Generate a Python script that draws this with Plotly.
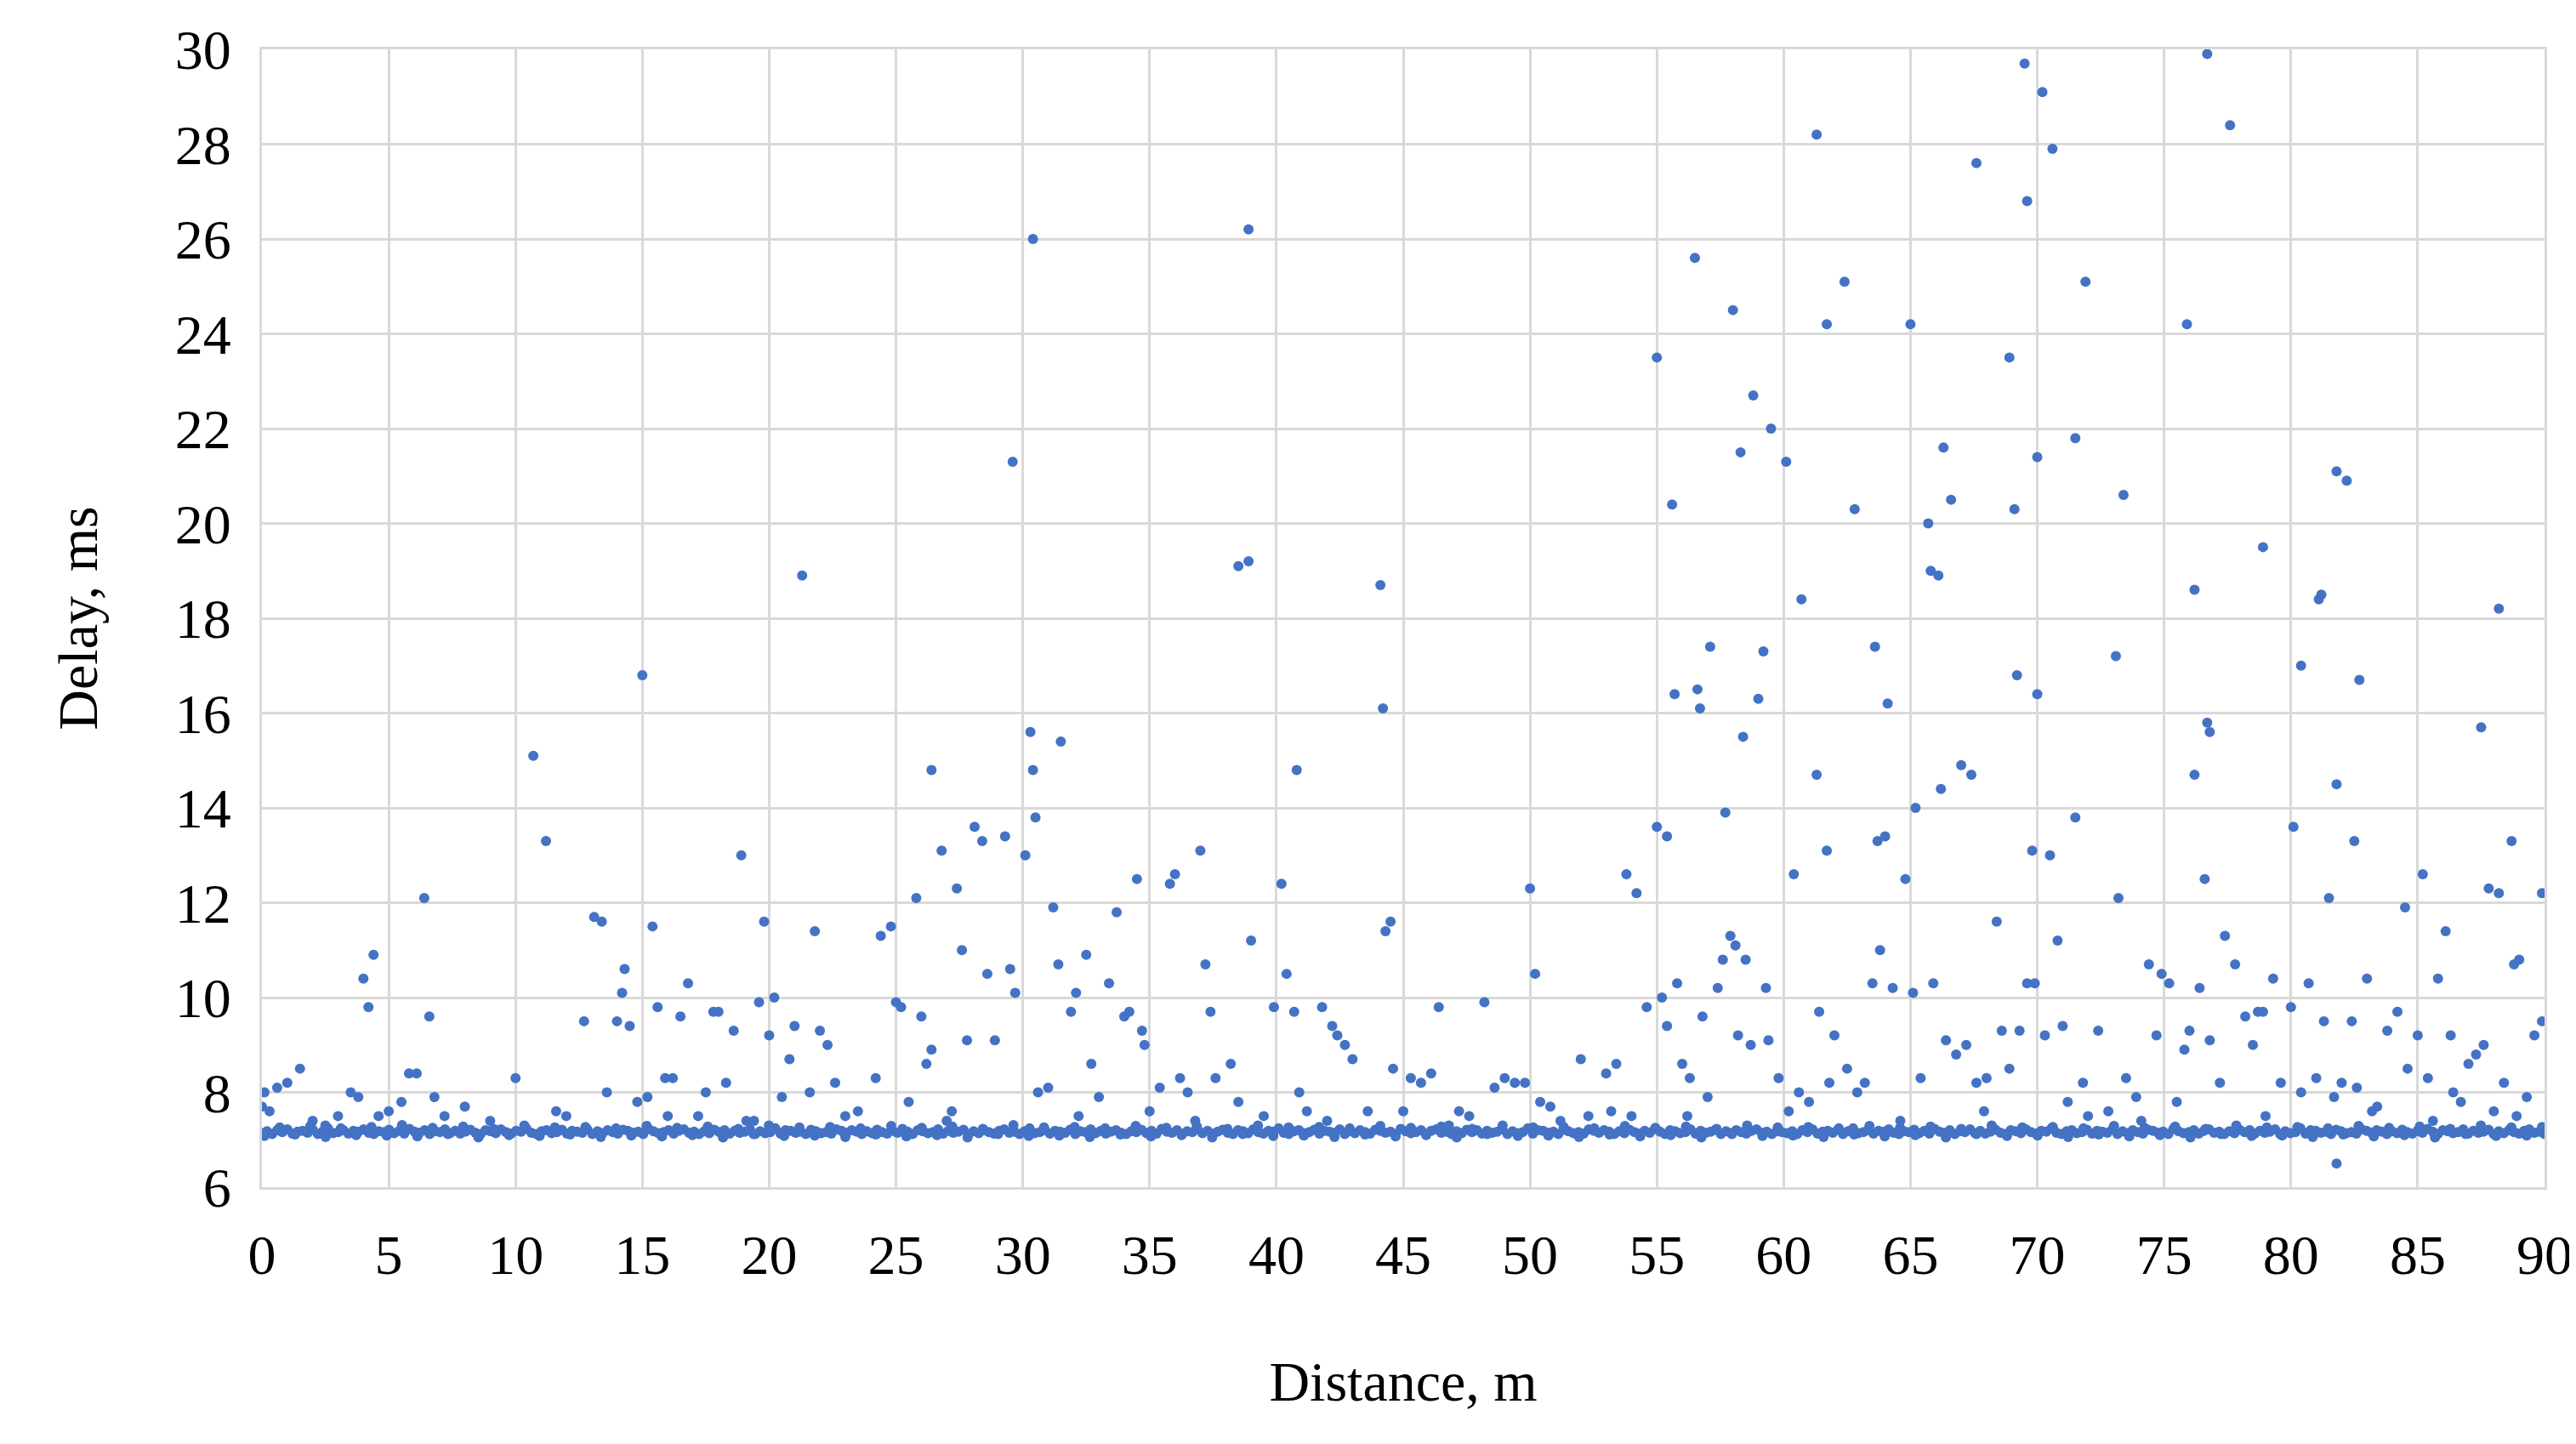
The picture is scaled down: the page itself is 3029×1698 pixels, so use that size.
import numpy as np
import plotly.graph_objects as go

# dense baseline band, hundredths above 7.00 ms, sampled uniformly along distance
band_str = """
14 18 12 20 16 22 13 17 19 15 21 12 18 24 14 16 20 13 19 17 22 15 12 18 16 21 14 19 13 23
17 15 20 12 18 16 22 14 19 13 17 21 15 12 20 18 14 22 16 13 19 17 24 15 12 18 20 14 16 21
13 19 17 15 22 12 18 14 20 16 13 21 19 15 17 12 23 18 14 16 20 13 19 22 15 17 12 18 14 21
16 20 13 19 15 17 22 12 18 14 16 24 13 20 19 15 17 12 21 18 14 16 13 22 19 15 20 17 12 18
14 21 16 13 19 15 23 17 12 20 18 14 16 22 13 19 15 17 21 12 18 14 20 16 13 19 22 15 17 12
18 24 14 16 20 13 19 17 15 21 12 18 16 22 14 19 13 17 20 15 12 18 16 21 14 19 13 23 17 15
20 12 18 16 22 14 19 13 17 21 15 12 20 18 14 22 16 13 19 17 24 15 12 18 20 14 16 21 13 19
17 15 22 12 18 14 20 16 13 21 19 15 17 12 23 18 14 16 20 13 19 22 15 17 12 18 14 21 16 20
13 19 15 17 22 12 18 14 16 24 13 20 19 15 17 12 21 18 14 16 13 22 19 15 20 17 12 18 14 21
16 13 19 15 23 17 12 20 18 14 16 22 13 19 15 17 21 12 18 14 20 16 13 19 22 15 17 12 18 16
14 18 12 20 16 22 13 17 19 15 21 12 18 24 14 16 20 13 19 17 22 15 12 18 16 21 14 19 13 23
17 15 20 12 18 16 22 14 19 13 17 21 15 12 20 18 14 22 16 13 19 17 24 15 12 18 20 14 16 21
13 19 17 15 22 12 18 14 20 16 13 21 19 15 17 12 23 18 14 16 20 13 19 22 15 17 12 18 14 21
16 20 13 19 15 17 22 12 18 14 16 24 13 20 19 15 17 12 21 18 14 16 13 22 19 15 20 17 12 18
14 21 16 13 19 15 23 17 12 20 18 14 16 22 13 19 15 17 21 12 18 14 20 16 13 19 22 15 17 12
"""
# second, offset pass through the band (distances shifted by half a step)
band2_str = """
08 26 11 29 06 24 10 27 09 31 07 25 12 28 05 23 10 30 08 26 11 27 06 24 09 29 07 25 10 28
05 23 12 30 08 26 09 27 06 24 11 29 07 25 10 28 05 23 12 31 08 26 09 27 06 24 11 29 07 25
10 28 05 23 12 30 08 26 09 27 06 24 11 29 07 25 10 28 05 23 12 30 08 26 09 27 06 24 11 29
07 25 10 28 05 23 12 30 08 26 09 27 06 24 11 29 07 25 10 28 05 23 12 30 08 26 09 27 06 24
11 29 07 25 10 28 05 23 12 30 08 26 09 27 06 24 11 29 07 25 10 28 05 23 12 30 08 26 09 27
"""
band_y = [7 + int(v) / 100 for v in band_str.split()]
band_x = np.linspace(0, 90, len(band_y))
band2_y = [7 + int(v) / 100 for v in band2_str.split()]
band2_x = np.linspace(0.1, 89.9, len(band2_y))

# scattered delays (distance m, delay ms)
dist = [
    0.0, 0.1, 0.3, 0.6, 1.0, 1.5, 2.5, 3.0, 3.5, 3.8, 4.0, 4.2, 4.4, 4.6, 5.5, 5.8, 6.1, 6.4, 6.6, 6.8,
    8.0, 10.0, 10.7, 11.2, 12.0, 12.7, 13.1, 13.4, 13.6, 14.0, 14.2, 14.3, 14.5, 14.8, 15.0, 15.2, 15.4,
    15.6, 15.9, 16.2, 16.5, 16.8, 17.2, 17.5, 17.8, 18.0, 18.3, 18.6, 18.9, 19.1, 19.6, 19.8, 20.0,
    20.2, 20.5, 20.8, 21.0, 21.3, 21.6, 21.8, 22.0, 22.3, 22.6, 23.0, 24.2, 24.4, 24.8, 25.0, 25.2,
    25.5, 25.8, 26.0, 26.2, 26.4, 26.4, 26.8, 27.2, 27.4, 27.6, 27.8, 28.1, 28.4, 28.6, 28.9, 29.3,
    29.5, 29.7, 29.6, 30.1, 30.3, 30.4, 30.5, 30.4, 30.6, 31.0, 31.2, 31.4, 31.5, 31.9, 32.1, 32.5,
    32.7, 33.0, 33.4, 33.7, 34.0, 34.2, 34.5, 34.7, 34.8, 35.4, 35.8, 36.0, 36.2, 36.5, 37.0, 37.2,
    37.4, 37.6, 38.2, 38.5, 39.0, 38.5, 38.9, 38.9, 39.9, 40.2, 40.4, 40.7, 40.9, 41.2, 40.8, 41.8,
    42.2, 42.4, 42.7, 43.0, 43.6, 44.3, 44.6, 44.2, 44.1, 44.5, 45.3, 45.7, 46.1, 46.4, 46.8, 47.2,
    48.2, 48.6, 49.0, 49.4, 49.8, 50.0, 50.2, 50.4, 50.8, 52.0, 52.3, 53.0, 53.4, 53.8, 54.2, 54.6,
    2.0, 5.0, 7.2, 9.0, 11.6, 16.0, 19.4, 23.5, 27.0, 32.2, 35.0, 36.8, 39.5, 42.0, 45.0, 47.6, 51.2,
    53.2, 54.0,
    55.0, 55.6, 55.7, 55.4, 55.0, 56.5, 56.6, 56.7, 57.1, 57.7, 58.0, 58.3, 58.4, 58.8, 59.0, 59.2,
    59.5, 60.1, 60.7, 61.3, 61.3, 61.7, 61.7, 62.4, 62.8, 63.6, 63.7, 64.0, 64.1, 65.0, 65.2, 65.7,
    65.8, 66.1, 66.2, 66.3, 66.6, 67.0, 67.4, 67.6, 68.9, 69.1, 69.2, 69.5, 69.6, 69.8, 70.0, 70.0,
    70.2, 70.5, 70.6, 71.5, 71.9, 71.5, 73.4, 73.1, 73.2, 75.9, 76.2, 76.2, 76.7, 76.8, 76.6, 76.7,
    77.6, 78.9, 80.1, 80.4, 81.1, 81.2, 81.5, 81.8, 81.8, 82.2, 82.5, 82.7, 84.5, 85.2, 87.5, 88.2,
    88.7, 88.2, 89.9, 86.1, 89.0, 81.8,
    55.2, 55.4, 55.8, 56.0, 56.3, 56.8, 57.0, 57.4, 57.6, 57.9, 58.1, 58.2, 58.5, 58.7, 59.3, 59.4,
    59.8, 60.4, 60.6, 61.0, 61.4, 61.8, 62.0, 62.5, 62.9, 63.2, 63.5, 63.8, 64.3, 64.8, 65.1, 65.4,
    65.9, 66.4, 66.8, 67.2, 67.6, 68.0, 68.4, 68.6, 68.9, 69.3, 69.6, 69.9, 70.3, 70.8, 71.0, 71.2,
    71.8, 72.4, 72.8, 73.5, 73.9, 74.4, 74.7, 74.9, 75.2, 75.5, 75.8, 76.0, 76.4, 76.8, 77.2, 77.4,
    77.8, 78.2, 78.5, 78.7, 78.9, 79.3, 79.6, 80.0, 80.4, 80.7, 81.0, 81.3, 81.7, 82.0, 82.4, 82.6,
    83.0, 83.4, 83.8, 84.2, 84.6, 85.0, 85.4, 85.8, 86.3, 86.7, 87.0, 87.3, 87.6, 88.0, 88.4, 88.8,
    89.3, 89.6, 89.9, 87.8, 86.4, 56.2, 60.2, 64.6, 67.9, 72.0, 74.1, 79.0, 83.2, 85.6, 88.9,
]
delay = [
    7.7, 8.0, 7.6, 8.1, 8.2, 8.5, 7.3, 7.5, 8.0, 7.9, 10.4, 9.8, 10.9, 7.5, 7.8, 8.4, 8.4, 12.1, 9.6, 7.9,
    7.7, 8.3, 15.1, 13.3, 7.5, 9.5, 11.7, 11.6, 8.0, 9.5, 10.1, 10.6, 9.4, 7.8, 16.8, 7.9, 11.5,
    9.8, 8.3, 8.3, 9.6, 10.3, 7.5, 8.0, 9.7, 9.7, 8.2, 9.3, 13.0, 7.4, 9.9, 11.6, 9.2,
    10.0, 7.9, 8.7, 9.4, 18.9, 8.0, 11.4, 9.3, 9.0, 8.2, 7.5, 8.3, 11.3, 11.5, 9.9, 9.8,
    7.8, 12.1, 9.6, 8.6, 8.9, 14.8, 13.1, 7.6, 12.3, 11.0, 9.1, 13.6, 13.3, 10.5, 9.1, 13.4,
    10.6, 10.1, 21.3, 13.0, 15.6, 14.8, 13.8, 26.0, 8.0, 8.1, 11.9, 10.7, 15.4, 9.7, 10.1, 10.9,
    8.6, 7.9, 10.3, 11.8, 9.6, 9.7, 12.5, 9.3, 9.0, 8.1, 12.4, 12.6, 8.3, 8.0, 13.1, 10.7,
    9.7, 8.3, 8.6, 7.8, 11.2, 19.1, 19.2, 26.2, 9.8, 12.4, 10.5, 9.7, 8.0, 7.6, 14.8, 9.8,
    9.4, 9.2, 9.0, 8.7, 7.6, 11.4, 8.5, 16.1, 18.7, 11.6, 8.3, 8.2, 8.4, 9.8, 7.3, 7.6,
    9.9, 8.1, 8.3, 8.2, 8.2, 12.3, 10.5, 7.8, 7.7, 8.7, 7.5, 8.4, 8.6, 12.6, 12.2, 9.8,
    7.4, 7.6, 7.5, 7.4, 7.6, 7.5, 7.4, 7.6, 7.4, 7.5, 7.6, 7.4, 7.5, 7.4, 7.6, 7.5, 7.4,
    7.6, 7.5,
    23.5, 20.4, 16.4, 13.4, 13.6, 25.6, 16.5, 16.1, 17.4, 13.9, 24.5, 21.5, 15.5, 22.7, 16.3, 17.3,
    22.0, 21.3, 18.4, 28.2, 14.7, 24.2, 13.1, 25.1, 20.3, 17.4, 13.3, 13.4, 16.2, 24.2, 14.0, 20.0,
    19.0, 18.9, 14.4, 21.6, 20.5, 14.9, 14.7, 27.6, 23.5, 20.3, 16.8, 29.7, 26.8, 13.1, 21.4, 16.4,
    29.1, 13.0, 27.9, 13.8, 25.1, 21.8, 20.6, 17.2, 12.1, 24.2, 18.6, 14.7, 15.8, 15.6, 12.5, 29.9,
    28.4, 19.5, 13.6, 17.0, 18.4, 18.5, 12.1, 14.5, 21.1, 20.9, 13.3, 16.7, 11.9, 12.6, 15.7, 18.2,
    13.3, 12.2, 12.2, 11.4, 10.8, 6.5,
    10.0, 9.4, 10.3, 8.6, 8.3, 9.6, 7.9, 10.2, 10.8, 11.3, 11.1, 9.2, 10.8, 9.0, 10.2, 9.1,
    8.3, 12.6, 8.0, 7.8, 9.7, 8.2, 9.2, 8.5, 8.0, 8.2, 10.3, 11.0, 10.2, 12.5, 10.1, 8.3,
    10.3, 9.1, 8.8, 9.0, 8.2, 8.3, 11.6, 9.3, 8.5, 9.3, 10.3, 10.3, 9.2, 11.2, 9.4, 7.8,
    8.2, 9.3, 7.6, 8.3, 7.9, 10.7, 9.2, 10.5, 10.3, 7.8, 8.9, 9.3, 10.2, 9.1, 8.2, 11.3,
    10.7, 9.6, 9.0, 9.7, 9.7, 10.4, 8.2, 9.8, 8.0, 10.3, 8.3, 9.5, 7.9, 8.2, 9.5, 8.1,
    10.4, 7.7, 9.3, 9.7, 8.5, 9.2, 8.3, 10.4, 9.2, 7.8, 8.6, 8.8, 9.0, 7.6, 8.2, 10.7,
    7.9, 9.2, 9.5, 12.3, 8.0, 7.5, 7.6, 7.4, 7.6, 7.5, 7.4, 7.5, 7.6, 7.4, 7.5,
]

blue = "#4472C4"
serif = "Liberation Serif"

fig = go.Figure()
for xs, ys in [(band_x, band_y), (band2_x, band2_y), (dist, delay)]:
    fig.add_trace(go.Scatter(x=xs, y=ys, mode="markers",
                             marker=dict(color=blue, size=12), showlegend=False))

fig.update_layout(
    width=3029, height=1698,
    margin=dict(l=300, r=42, t=50, b=310),
    plot_bgcolor="white", paper_bgcolor="white",
    font=dict(family=serif, size=66, color="#000000"),
)
fig.update_xaxes(
    range=[0, 90], dtick=5, tick0=0,
    showgrid=True, gridcolor="#D9D9D9", gridwidth=3,
    showline=True, linecolor="#D9D9D9", linewidth=3, mirror=True,
    zeroline=False, ticks="", ticklabelstandoff=20,
    title=dict(text="Distance, m", font=dict(size=66), standoff=90),
)
fig.update_yaxes(
    range=[6, 30], dtick=2, tick0=6,
    showgrid=True, gridcolor="#D9D9D9", gridwidth=3,
    showline=True, linecolor="#D9D9D9", linewidth=3, mirror=True,
    zeroline=False, ticks="", ticklabelstandoff=20,
    title=dict(text="Delay, ms", font=dict(size=66), standoff=70),
)

fig.write_html("out.html")
